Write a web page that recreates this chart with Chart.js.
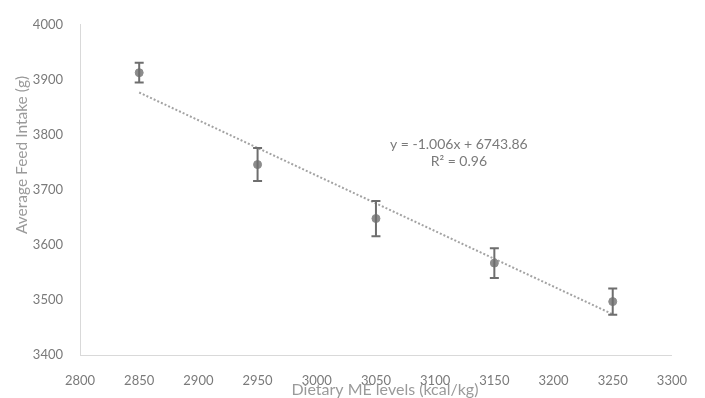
<!DOCTYPE html>
<html>
<head>
<meta charset="utf-8">
<script src="https://cdn.jsdelivr.net/npm/chart.js@4.4.1/dist/chart.umd.min.js"></script>
<style>
  html, body { margin: 0; padding: 0; background: #ffffff; }
  #wrap { width: 705px; height: 398px; position: relative; }
</style>
</head>
<body>
<div id="wrap"><canvas id="c" width="705" height="398"></canvas></div>
<script>
// ---- data ----
const meLevels = [2850, 2950, 3050, 3150, 3250];
const feedIntake = [3913, 3746, 3648, 3567, 3497];
const feedError = [18, 30, 32, 27, 24];
const trendX = [2850, 3250];
const trendY = [3877, 3474];
const xTickValues = [2800, 2850, 2900, 2950, 3000, 3050, 3100, 3150, 3200, 3250, 3300];
const yTickValues = [3400, 3500, 3600, 3700, 3800, 3900, 4000];
const xTitle = 'Dietary ME levels (kcal/kg)';
const yTitle = 'Average Feed Intake (g)';
const equationLines = ['y = -1.006x + 6743.86', 'R² = 0.96'];

const FONT = 'Lato, "Open Sans", "Liberation Sans", sans-serif';
const TICK_COLOR = '#7a7a7a';
const TITLE_COLOR = '#9a9a9a';

const errorBarPlugin = {
  id: 'errorBars',
  afterDatasetsDraw(chart) {
    const ctx = chart.ctx;
    const xs = chart.scales.x, ys = chart.scales.y;
    ctx.save();
    ctx.strokeStyle = '#6e6e6e';
    ctx.lineWidth = 2;
    for (let i = 0; i < meLevels.length; i++) {
      const px = xs.getPixelForValue(meLevels[i]);
      const top = ys.getPixelForValue(feedIntake[i] + feedError[i]);
      const bot = ys.getPixelForValue(feedIntake[i] - feedError[i]);
      ctx.beginPath();
      ctx.moveTo(px, top); ctx.lineTo(px, bot);
      ctx.moveTo(px - 4.5, top); ctx.lineTo(px + 4.5, top);
      ctx.moveTo(px - 4.5, bot); ctx.lineTo(px + 4.5, bot);
      ctx.stroke();
    }
    ctx.restore();
  }
};

const textPlugin = {
  id: 'extraText',
  afterDraw(chart) {
    const ctx = chart.ctx;
    const xs = chart.scales.x, ys = chart.scales.y;
    // y-axis title
    ctx.save();
    ctx.fillStyle = TITLE_COLOR;
    ctx.font = '15.5px ' + FONT;
    ctx.textAlign = 'center';
    ctx.textBaseline = 'middle';
    ctx.translate(22, 155);
    ctx.rotate(-Math.PI / 2);
    ctx.fillText(yTitle, 0, 0);
    ctx.restore();
    // x-axis title
    ctx.save();
    ctx.fillStyle = TITLE_COLOR;
    ctx.font = '16px ' + FONT;
    ctx.textAlign = 'center';
    ctx.textBaseline = 'middle';
    ctx.fillText(xTitle, 385, 390);
    ctx.restore();
    // regression equation
    ctx.save();
    ctx.fillStyle = '#7a7a7a';
    ctx.font = '14px ' + FONT;
    ctx.textAlign = 'center';
    ctx.textBaseline = 'middle';
    const cx = xs.getPixelForValue(3120);
    const cy = ys.getPixelForValue(3783);
    ctx.fillText(equationLines[0], cx, cy);
    ctx.fillText(equationLines[1], cx, cy + 17);
    ctx.restore();
  }
};

new Chart(document.getElementById('c'), {
  type: 'scatter',
  data: {
    datasets: [
      {
        label: 'Feed intake',
        data: meLevels.map((x, i) => ({ x: x, y: feedIntake[i] })),
        backgroundColor: '#8c8c8c',
        borderColor: '#8c8c8c',
        pointRadius: 4,
        pointHoverRadius: 4,
        order: 1
      },
      {
        label: 'Trend',
        type: 'line',
        data: trendX.map((x, i) => ({ x: x, y: trendY[i] })),
        borderColor: '#a3a3a3',
        borderWidth: 2,
        borderDash: [2, 2],
        pointRadius: 0,
        fill: false,
        order: 2
      }
    ]
  },
  options: {
    responsive: false,
    animation: false,
    devicePixelRatio: 1,
    layout: { padding: { top: 18, right: 33, left: 0, bottom: 0 } },
    plugins: {
      legend: { display: false },
      tooltip: { enabled: false }
    },
    scales: {
      x: {
        type: 'linear',
        min: 2800, max: 3300,
        afterBuildTicks(scale) { scale.ticks = xTickValues.map(v => ({ value: v })); },
        afterFit(scale) { scale.height = 43; },
        grid: { display: false, drawTicks: false },
        border: { display: true, color: '#d9d9d9', width: 1 },
        ticks: { padding: 18, color: TICK_COLOR, font: { family: FONT, size: 13 }, maxRotation: 0, autoSkip: false,
                 callback: v => String(v) }
      },
      y: {
        type: 'linear',
        min: 3400, max: 4000,
        afterBuildTicks(scale) { scale.ticks = yTickValues.map(v => ({ value: v })); },
        afterFit(scale) { scale.width = 80; },
        grid: { display: false, drawTicks: false },
        border: { display: true, color: '#d9d9d9', width: 1 },
        ticks: { padding: 17, color: TICK_COLOR, font: { family: FONT, size: 13 }, autoSkip: false,
                 callback: v => String(v) }
      }
    }
  },
  plugins: [errorBarPlugin, textPlugin]
});
</script>
</body>
</html>
